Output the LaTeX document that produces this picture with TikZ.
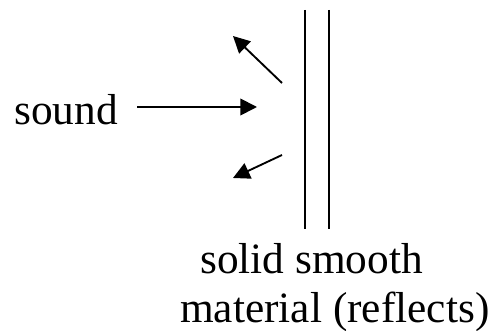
\documentclass[tikz,border=0pt]{standalone}
\usepackage{fontspec}
\setmainfont{Liberation Serif}
\usepackage{tikz}
\usetikzlibrary{arrows.meta,positioning}
\tikzset{
  label/.style={
    font=\fontsize{32.5}{39}\selectfont,
    inner sep=0pt,
    anchor=base west
  },
  wall/.style={line width=1.4pt, draw=black},
  wave/.style={line width=1.4pt, draw=black, -{Triangle[length=12.5pt, width=12.5pt]}}
}

\begin{document}
\begin{tikzpicture}[x=0.75pt,y=-0.75pt]
\path[use as bounding box] (0,0) rectangle (489,331);

\node[label] (sound) at (14,125) {sound};
\node[label] (solid) at (200,274) {solid smooth};
\node[label] (material) at (180,322) {material (reflects)};

\coordinate (instart) at (137,107);
\coordinate (inhit) at (257,107);
\coordinate (upstart) at (282,83);
\coordinate (uptip) at (233,36);
\coordinate (downstart) at (282,155);
\coordinate (downtip) at (233,178);
\coordinate (wallAtop) at (305,10);
\coordinate (wallAbot) at (305,229);
\coordinate (wallBtop) at (329,10);
\coordinate (wallBbot) at (329,229);

\draw[wave] (instart) -- (inhit);
\draw[wave] (upstart) -- (uptip);
\draw[wave] (downstart) -- (downtip);
\draw[wall] (wallAtop) -- (wallAbot);
\draw[wall] (wallBtop) -- (wallBbot);

\end{tikzpicture}
\end{document}
